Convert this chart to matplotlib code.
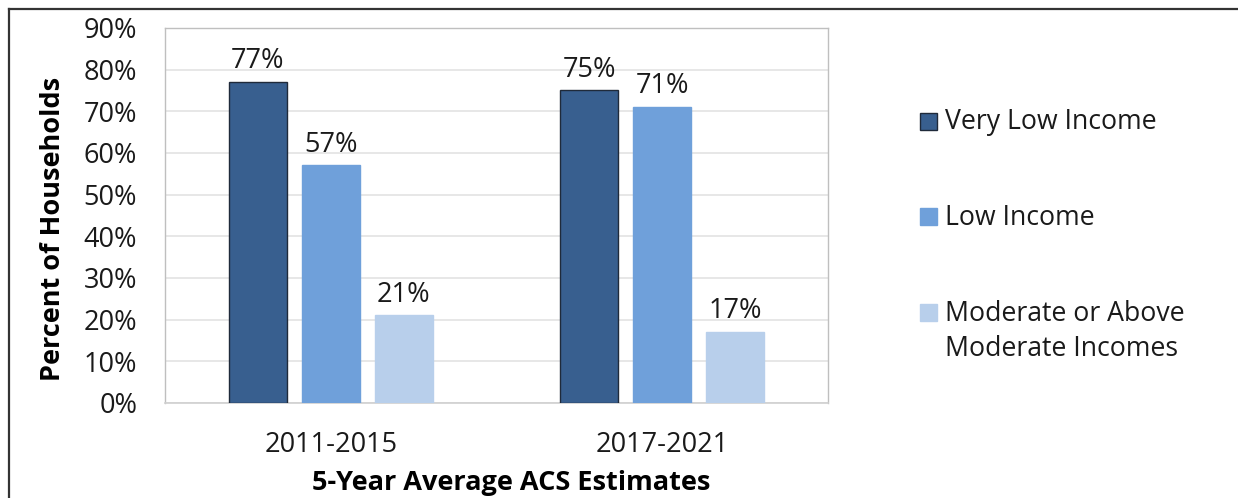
import matplotlib.pyplot as plt
import numpy as np
from matplotlib.lines import Line2D
from matplotlib.patches import Rectangle

plt.rcParams["font.family"] = ["Open Sans", "DejaVu Sans"]

# Daten
periods = ["2011-2015", "2017-2021"]
groups = ["Very Low Income", "Low Income", "Moderate or Above\nModerate Incomes"]
very_low = [77, 75]
low = [57, 71]
moderate = [21, 17]

colors = ["#385F8F", "#6FA0DA", "#B8CFEB"]
edges = ["#1F2A3A", "#6FA0DA", "#B8CFEB"]

FS = 19.5

fig = plt.figure(figsize=(12.38, 4.98), dpi=100)
ax = fig.add_axes([0.1333, 0.1908, 0.5355, 0.753])

x = np.arange(len(periods))
width = 0.175
step = 0.22

for i, vals in enumerate([very_low, low, moderate]):
	rects = ax.bar(x + (i - 1) * step, vals, width=width, color=colors[i],
	               edgecolor=edges[i], linewidth=1.0, zorder=3)
	for r, v in zip(rects, vals):
		ax.annotate("{}%".format(v), xy=(r.get_x() + r.get_width() / 2, v),
		            xytext=(0, 5), textcoords="offset points",
		            ha="center", va="bottom", fontsize=FS, color="#1a1a1a")

ax.set_xlim(-0.5, 1.5)
ax.set_ylim(0, 90)
ax.set_yticks(range(0, 91, 10))
ax.set_yticklabels(["{}%".format(t) for t in range(0, 91, 10)], fontsize=FS, color="#1a1a1a")
ax.set_xticks(x)
ax.set_xticklabels(periods, fontsize=FS, color="#1a1a1a")
ax.tick_params(length=0)
ax.tick_params(axis="y", pad=20)
ax.tick_params(axis="x", pad=20)

ax.grid(axis="y", color="#E3E3E3", linewidth=1.2, zorder=0)
for side in ["left", "top", "right"]:
	ax.spines[side].set_color("#BFBFBF")
	ax.spines[side].set_linewidth(1.0)
ax.spines["bottom"].set_color("#D0D0D0")
ax.spines["bottom"].set_linewidth(1.2)

ax.set_ylabel("Percent of Households", fontsize=FS, fontweight="bold")
ax.yaxis.set_label_coords(-0.149, 0.465)
ax.set_xlabel("5-Year Average ACS Estimates", fontsize=FS, fontweight="bold", labelpad=8)
ax.xaxis.label.set_x(0.522)

# Legende (manuell, Marker auf Hoehe der ersten Zeile)
legend_rows = [0.757, 0.5643, 0.3715]
sq_w = 17 / 1238
sq_h = 17 / 498
for i, (label, y) in enumerate(zip(groups, legend_rows)):
	fig.add_artist(Rectangle((0.7432, y - sq_h / 2), sq_w, sq_h, transform=fig.transFigure,
	                         facecolor=colors[i], edgecolor=edges[i], linewidth=1.0))
	fig.text(0.7633, y + 0.027, label, fontsize=19.2, color="#1a1a1a",
	         ha="left", va="top", linespacing=1.35)

# Rahmen links und oben
fig.add_artist(Line2D([0.0073, 0.0073], [0.0, 0.982], color="#333333", linewidth=1.6))
fig.add_artist(Line2D([0.0073, 1.0], [0.982, 0.982], color="#333333", linewidth=1.6))

plt.savefig("out.png", dpi=100)
